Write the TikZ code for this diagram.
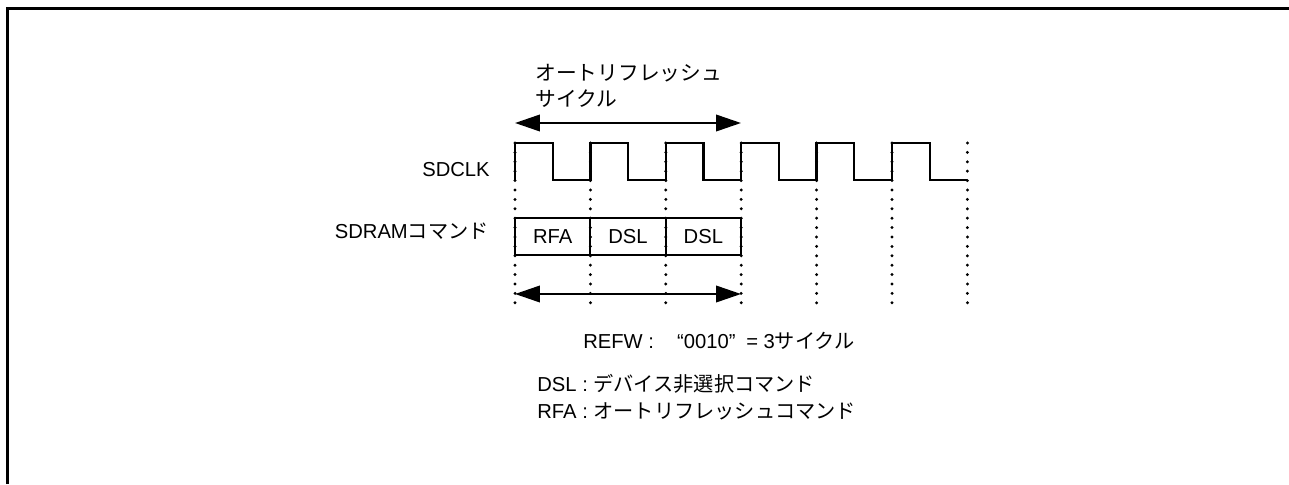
\documentclass[tikz,border=0pt]{standalone}
\usepackage{fontspec}
\setmainfont{Liberation Sans}
\newfontfamily\jp{Noto Sans CJK JP}
\usetikzlibrary{arrows.meta,positioning}

\begin{document}
\begin{tikzpicture}[x=0.02cm,y=-0.02cm,
  >={Triangle[length=0.5cm,width=0.33cm]},
  font=\fontsize{11.5}{14.7}\selectfont,
  wave/.style={line width=0.045cm},
  dots/.style={line width=0.065cm,line cap=round,dash pattern=on 0pt off 0.188cm},
  cell/.style={draw,line width=0.045cm,minimum width=1.507cm,minimum height=0.74cm,
               inner sep=0pt,outer sep=0pt},
  lab/.style={inner sep=0pt}]
\useasboundingbox (0,0) rectangle (1289,484);
% frame
\draw[line width=0.07cm] (7.5,484) -- (7.5,8.5) -- (1289,8.5);
% clock edges
\foreach \i in {0,...,6}{
  \draw[dots] (515+75.4*\i,143) -- (515+75.4*\i,305);}
\draw[wave] (515,180) \foreach \i in {0,...,5}{
  -- ++(0,-37) -- ++(37.7,0) -- ++(0,37) -- ++(37.7,0)};
% labels
\node[lab,anchor=east] (clk) at (490,170) {SDCLK};
\node[lab,anchor=east] (cmd) at (489,231) {SDRAM{\jp コマンド}};
% refresh cycle
\node[lab,anchor=west,align=left] (cyc) at (535,86)
  {{\jp\fontsize{11.8}{14.7}\selectfont オートリフレッシュ}\\{\jp\fontsize{11.8}{14.7}\selectfont サイクル}};
\coordinate (ta) at (515,123);
\coordinate (tb) at (741,123);
\draw[<->,line width=0.045cm] (ta) -- (tb);
% command sequence
\node[cell] (rfa) at (552.7,236.5) {RFA};
\node[cell,right=0pt of rfa] (dsla) {DSL};
\node[cell,right=0pt of dsla] (dslb) {DSL};
\coordinate (ba) at (515,294);
\coordinate (bb) at (741,294);
\draw[<->,line width=0.045cm] (ba) -- (bb);
\node[lab] (refw) at (719,341) {REFW :\hspace{1.15em}“0010”\hspace{0.25em} = 3{\jp サイクル}};
% legend
\node[lab,anchor=west] (ldsl) at (537,384) {DSL : {\jp デバイス非選択コマンド}};
\node[lab,anchor=west] (lrfa) at (537,411) {RFA : {\jp オートリフレッシュコマンド}};
\end{tikzpicture}
\end{document}
